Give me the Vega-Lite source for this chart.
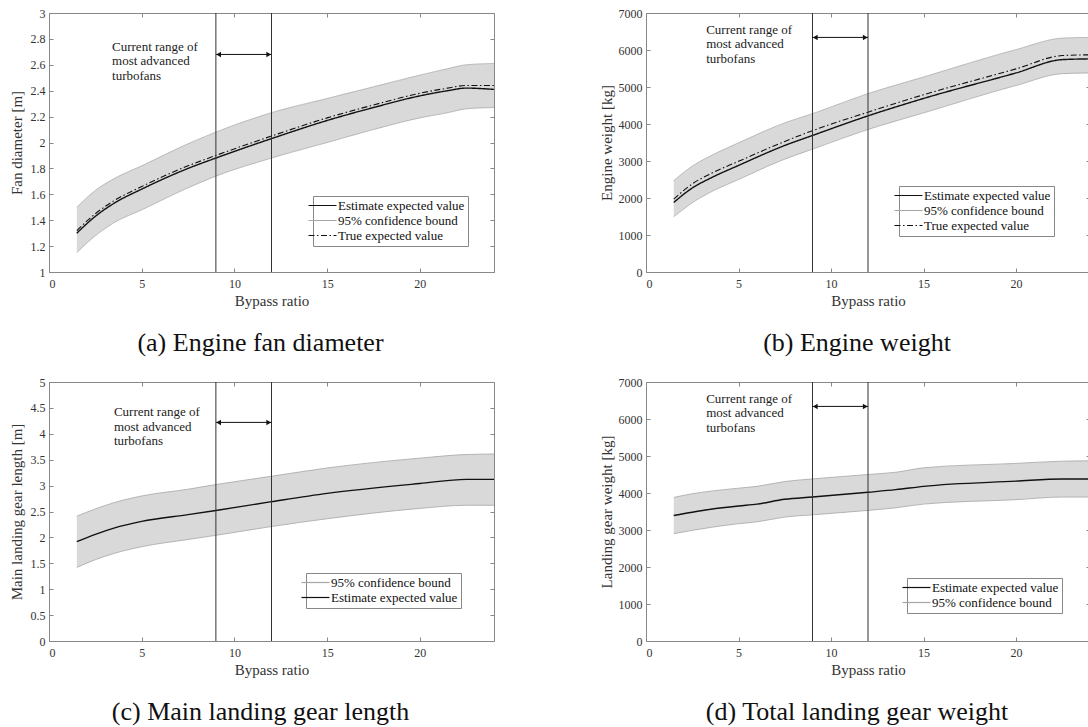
{
  "$schema": "https://vega.github.io/schema/vega-lite/v6.json",
  "background": "white",
  "autosize": {"type": "pad"},
  "padding": {"left": 8, "top": 6, "right": 0, "bottom": 0},
  "datasets": {
    "fan": [
      {"x":1.5,"est":1.30,"lo":1.15,"hi":1.50,"tru":1.32},
      {"x":2.5,"est":1.43,"lo":1.28,"hi":1.63,"tru":1.45},
      {"x":3.5,"est":1.53,"lo":1.38,"hi":1.72,"tru":1.55},
      {"x":5,"est":1.64,"lo":1.48,"hi":1.82,"tru":1.66},
      {"x":7.5,"est":1.80,"lo":1.65,"hi":1.99,"tru":1.82},
      {"x":9,"est":1.88,"lo":1.74,"hi":2.08,"tru":1.9},
      {"x":12,"est":2.03,"lo":1.88,"hi":2.23,"tru":2.05},
      {"x":15,"est":2.17,"lo":2.0,"hi":2.34,"tru":2.19},
      {"x":17.5,"est":2.27,"lo":2.1,"hi":2.43,"tru":2.29},
      {"x":20,"est":2.36,"lo":2.19,"hi":2.52,"tru":2.38},
      {"x":21.5,"est":2.4,"lo":2.23,"hi":2.57,"tru":2.42},
      {"x":22.5,"est":2.42,"lo":2.26,"hi":2.6,"tru":2.44},
      {"x":24,"est":2.41,"lo":2.27,"hi":2.61,"tru":2.44}
    ],
    "weight": [
      {"x":1.5,"est":1880,"lo":1490,"hi":2470,"tru":1970},
      {"x":2.5,"est":2270,"lo":1870,"hi":2860,"tru":2380},
      {"x":3.5,"est":2540,"lo":2160,"hi":3140,"tru":2660},
      {"x":5,"est":2880,"lo":2500,"hi":3490,"tru":2990},
      {"x":7.5,"est":3420,"lo":3050,"hi":4030,"tru":3530},
      {"x":9,"est":3690,"lo":3320,"hi":4280,"tru":3820},
      {"x":12,"est":4220,"lo":3850,"hi":4820,"tru":4320},
      {"x":15,"est":4690,"lo":4300,"hi":5270,"tru":4790},
      {"x":20,"est":5380,"lo":5040,"hi":6010,"tru":5490},
      {"x":22.5,"est":5740,"lo":5360,"hi":6320,"tru":5850},
      {"x":24,"est":5760,"lo":5380,"hi":6340,"tru":5870}
    ],
    "gearlen": [
      {"x":1.5,"est":1.92,"lo":1.42,"hi":2.41},
      {"x":2.5,"est":2.06,"lo":1.57,"hi":2.55},
      {"x":3.5,"est":2.18,"lo":1.69,"hi":2.67},
      {"x":5,"est":2.31,"lo":1.82,"hi":2.80},
      {"x":7.5,"est":2.44,"lo":1.96,"hi":2.93},
      {"x":9,"est":2.52,"lo":2.04,"hi":3.02},
      {"x":12,"est":2.69,"lo":2.21,"hi":3.18},
      {"x":15,"est":2.85,"lo":2.36,"hi":3.34},
      {"x":20,"est":3.04,"lo":2.56,"hi":3.53},
      {"x":22.5,"est":3.12,"lo":2.62,"hi":3.6},
      {"x":24,"est":3.12,"lo":2.62,"hi":3.61}
    ],
    "gearwt": [
      {"x":1.5,"est":3390,"lo":2900,"hi":3880},
      {"x":2.5,"est":3480,"lo":2990,"hi":3980},
      {"x":3.5,"est":3560,"lo":3070,"hi":4050},
      {"x":5,"est":3650,"lo":3170,"hi":4130},
      {"x":6,"est":3700,"lo":3220,"hi":4180},
      {"x":7.5,"est":3830,"lo":3350,"hi":4310},
      {"x":9,"est":3890,"lo":3410,"hi":4380},
      {"x":12,"est":4020,"lo":3530,"hi":4500},
      {"x":13.5,"est":4090,"lo":3600,"hi":4560},
      {"x":15,"est":4180,"lo":3700,"hi":4680},
      {"x":20,"est":4320,"lo":3820,"hi":4800},
      {"x":22.5,"est":4380,"lo":3890,"hi":4860},
      {"x":24,"est":4380,"lo":3890,"hi":4870}
    ],
    "vlines": [{"x":9},{"x":12}],
    "arrowA": [{"x1":9,"x2":12,"y":2.68}],
    "headsA": [{"x":9.15,"y":2.68,"s":"triangle-left"},{"x":11.85,"y":2.68,"s":"triangle-right"}],
    "textA": [{"x":3.4,"y":2.74,"t":"Current range of"},{"x":3.4,"y":2.627,"t":"most advanced"},{"x":3.4,"y":2.515,"t":"turbofans"}],
    "arrowB": [{"x1":9,"x2":12,"y":6340}],
    "headsB": [{"x":9.15,"y":6340,"s":"triangle-left"},{"x":11.85,"y":6340,"s":"triangle-right"}],
    "textB": [{"x":3.25,"y":6550,"t":"Current range of"},{"x":3.25,"y":6160,"t":"most advanced"},{"x":3.25,"y":5770,"t":"turbofans"}],
    "arrowC": [{"x1":9,"x2":12,"y":4.22}],
    "headsC": [{"x":9.15,"y":4.22,"s":"triangle-left"},{"x":11.85,"y":4.22,"s":"triangle-right"}],
    "textC": [{"x":3.5,"y":4.415,"t":"Current range of"},{"x":3.5,"y":4.13,"t":"most advanced"},{"x":3.5,"y":3.855,"t":"turbofans"}]
  },
  "concat": [
    {
      "width": 445, "height": 259,
      "data": {"name": "fan"},
      "title": {"text": "(a) Engine fan diameter"},
      "layer": [
        {"mark": {"type": "area", "color": "#d9d9d9", "interpolate": "monotone"},
         "encoding": {
           "x": {"field": "x", "type": "quantitative", "scale": {"domain": [0, 24]}, "axis": {"title": "Bypass ratio", "values": [0,5,10,15,20], "format": "d"}},
           "y": {"field": "lo", "type": "quantitative", "scale": {"domain": [1, 3]}, "axis": {"title": "Fan diameter [m]", "values": [1,1.2,1.4,1.6,1.8,2,2.2,2.4,2.6,2.8,3], "format": "~g", "titlePadding": 6}},
           "y2": {"field": "hi"}}},
        {"mark": {"type": "line", "strokeWidth": 0.8, "interpolate": "monotone"},
         "encoding": {
           "x": {"field": "x", "type": "quantitative", "axis": {"orient": "top", "labels": false, "title": null, "values": [0,5,10,15,20]}},
           "y": {"field": "lo", "type": "quantitative", "axis": {"orient": "right", "labels": false, "title": null, "values": [1,1.2,1.4,1.6,1.8,2,2.2,2.4,2.6,2.8,3]}},
           "color": {"datum": "95% confidence bound", "type": "nominal", "scale": {"domain": ["Estimate expected value", "95% confidence bound", "True expected value"], "range": ["#111111", "#a6a6a6", "#111111"]}, "legend": {"title": null, "orient": "bottom-right", "offset": 26, "encode": {"symbols": {"update": {"strokeDash": {"signal": "datum.label === 'True expected value' ? [6,2.5,1.5,2.5] : [1,0]"}}}}}},
           "strokeDash": {"datum": "95% confidence bound", "type": "nominal", "scale": {"domain": ["Estimate expected value", "95% confidence bound", "True expected value"], "range": [[1,0],[1,0],[6,2.5,1.5,2.5]]}, "legend": null}}},
        {"mark": {"type": "line", "strokeWidth": 0.8, "interpolate": "monotone"},
         "encoding": {
           "x": {"field": "x", "type": "quantitative", "axis": null},
           "y": {"field": "hi", "type": "quantitative", "axis": null},
           "color": {"datum": "95% confidence bound", "type": "nominal"},
           "strokeDash": {"datum": "95% confidence bound", "type": "nominal"}}},
        {"mark": {"type": "line", "strokeWidth": 1.4, "interpolate": "monotone"},
         "encoding": {
           "x": {"field": "x", "type": "quantitative", "axis": null},
           "y": {"field": "est", "type": "quantitative", "axis": null},
           "color": {"datum": "Estimate expected value", "type": "nominal"},
           "strokeDash": {"datum": "Estimate expected value", "type": "nominal"}}},
        {"mark": {"type": "line", "strokeWidth": 1.1, "interpolate": "monotone"},
         "encoding": {
           "x": {"field": "x", "type": "quantitative", "axis": null},
           "y": {"field": "tru", "type": "quantitative", "axis": null},
           "color": {"datum": "True expected value", "type": "nominal"},
           "strokeDash": {"datum": "True expected value", "type": "nominal"}}},
        {"data": {"name": "vlines"}, "mark": {"type": "rule", "color": "#333333", "strokeWidth": 1},
         "encoding": {"x": {"field": "x", "type": "quantitative", "axis": null}}},
        {"data": {"name": "arrowA"}, "mark": {"type": "rule", "color": "#111111", "strokeWidth": 1},
         "encoding": {"x": {"field": "x1", "type": "quantitative", "axis": null}, "x2": {"field": "x2"}, "y": {"field": "y", "type": "quantitative", "axis": null}}},
        {"data": {"name": "headsA"}, "mark": {"type": "point", "filled": true, "color": "#111111", "size": 30, "opacity": 1},
         "encoding": {"x": {"field": "x", "type": "quantitative", "axis": null}, "y": {"field": "y", "type": "quantitative", "axis": null}, "shape": {"field": "s", "type": "nominal", "scale": null}}},
        {"data": {"name": "textA"}, "mark": {"type": "text", "align": "left", "baseline": "middle", "fontSize": 13, "font": "Liberation Serif", "color": "#222222"},
         "encoding": {"x": {"field": "x", "type": "quantitative", "axis": null}, "y": {"field": "y", "type": "quantitative", "axis": null}, "text": {"field": "t"}}}
      ],
      "resolve": {"axis": {"x": "independent", "y": "independent"}}
    },
    {
      "width": 444, "height": 259,
      "data": {"name": "weight"},
      "title": {"text": "(b) Engine weight"},
      "layer": [
        {"mark": {"type": "area", "color": "#d9d9d9", "interpolate": "monotone"},
         "encoding": {
           "x": {"field": "x", "type": "quantitative", "scale": {"domain": [0, 24]}, "axis": {"title": "Bypass ratio", "values": [0,5,10,15,20], "format": "d"}},
           "y": {"field": "lo", "type": "quantitative", "scale": {"domain": [0, 7000]}, "axis": {"title": "Engine weight [kg]", "values": [0,1000,2000,3000,4000,5000,6000,7000], "format": "d", "titlePadding": 4}},
           "y2": {"field": "hi"}}},
        {"mark": {"type": "line", "strokeWidth": 0.8, "interpolate": "monotone"},
         "encoding": {
           "x": {"field": "x", "type": "quantitative", "axis": {"orient": "top", "labels": false, "title": null, "values": [0,5,10,15,20]}},
           "y": {"field": "lo", "type": "quantitative", "axis": {"orient": "right", "labels": false, "title": null, "values": [0,1000,2000,3000,4000,5000,6000,7000]}},
           "color": {"datum": "95% confidence bound", "type": "nominal", "scale": {"domain": ["Estimate expected value", "95% confidence bound", "True expected value"], "range": ["#111111", "#a6a6a6", "#111111"]}, "legend": {"title": null, "orient": "bottom-right", "offset": 36, "encode": {"symbols": {"update": {"strokeDash": {"signal": "datum.label === 'True expected value' ? [6,2.5,1.5,2.5] : [1,0]"}}}}}},
           "strokeDash": {"datum": "95% confidence bound", "type": "nominal", "scale": {"domain": ["Estimate expected value", "95% confidence bound", "True expected value"], "range": [[1,0],[1,0],[6,2.5,1.5,2.5]]}, "legend": null}}},
        {"mark": {"type": "line", "strokeWidth": 0.8, "interpolate": "monotone"},
         "encoding": {
           "x": {"field": "x", "type": "quantitative", "axis": null},
           "y": {"field": "hi", "type": "quantitative", "axis": null},
           "color": {"datum": "95% confidence bound", "type": "nominal"},
           "strokeDash": {"datum": "95% confidence bound", "type": "nominal"}}},
        {"mark": {"type": "line", "strokeWidth": 1.4, "interpolate": "monotone"},
         "encoding": {
           "x": {"field": "x", "type": "quantitative", "axis": null},
           "y": {"field": "est", "type": "quantitative", "axis": null},
           "color": {"datum": "Estimate expected value", "type": "nominal"},
           "strokeDash": {"datum": "Estimate expected value", "type": "nominal"}}},
        {"mark": {"type": "line", "strokeWidth": 1.1, "interpolate": "monotone"},
         "encoding": {
           "x": {"field": "x", "type": "quantitative", "axis": null},
           "y": {"field": "tru", "type": "quantitative", "axis": null},
           "color": {"datum": "True expected value", "type": "nominal"},
           "strokeDash": {"datum": "True expected value", "type": "nominal"}}},
        {"data": {"name": "vlines"}, "mark": {"type": "rule", "color": "#333333", "strokeWidth": 1},
         "encoding": {"x": {"field": "x", "type": "quantitative", "axis": null}}},
        {"data": {"name": "arrowB"}, "mark": {"type": "rule", "color": "#111111", "strokeWidth": 1},
         "encoding": {"x": {"field": "x1", "type": "quantitative", "axis": null}, "x2": {"field": "x2"}, "y": {"field": "y", "type": "quantitative", "axis": null}}},
        {"data": {"name": "headsB"}, "mark": {"type": "point", "filled": true, "color": "#111111", "size": 30, "opacity": 1},
         "encoding": {"x": {"field": "x", "type": "quantitative", "axis": null}, "y": {"field": "y", "type": "quantitative", "axis": null}, "shape": {"field": "s", "type": "nominal", "scale": null}}},
        {"data": {"name": "textB"}, "mark": {"type": "text", "align": "left", "baseline": "middle", "fontSize": 13, "font": "Liberation Serif", "color": "#222222"},
         "encoding": {"x": {"field": "x", "type": "quantitative", "axis": null}, "y": {"field": "y", "type": "quantitative", "axis": null}, "text": {"field": "t"}}}
      ],
      "resolve": {"axis": {"x": "independent", "y": "independent"}}
    },
    {
      "width": 445, "height": 259,
      "data": {"name": "gearlen"},
      "title": {"text": "(c) Main landing gear length"},
      "layer": [
        {"mark": {"type": "area", "color": "#d9d9d9", "interpolate": "monotone"},
         "encoding": {
           "x": {"field": "x", "type": "quantitative", "scale": {"domain": [0, 24]}, "axis": {"title": "Bypass ratio", "values": [0,5,10,15,20], "format": "d"}},
           "y": {"field": "lo", "type": "quantitative", "scale": {"domain": [0, 5]}, "axis": {"title": "Main landing gear length [m]", "values": [0,0.5,1,1.5,2,2.5,3,3.5,4,4.5,5], "format": "~g", "titlePadding": 6}},
           "y2": {"field": "hi"}}},
        {"mark": {"type": "line", "strokeWidth": 0.8, "interpolate": "monotone"},
         "encoding": {
           "x": {"field": "x", "type": "quantitative", "axis": {"orient": "top", "labels": false, "title": null, "values": [0,5,10,15,20]}},
           "y": {"field": "lo", "type": "quantitative", "axis": {"orient": "right", "labels": false, "title": null, "values": [0,0.5,1,1.5,2,2.5,3,3.5,4,4.5,5]}},
           "color": {"datum": "95% confidence bound", "type": "nominal", "scale": {"domain": ["95% confidence bound", "Estimate expected value"], "range": ["#a6a6a6", "#111111"]}, "legend": {"title": null, "orient": "bottom-right", "offset": 33}}}},
        {"mark": {"type": "line", "strokeWidth": 0.8, "interpolate": "monotone"},
         "encoding": {
           "x": {"field": "x", "type": "quantitative", "axis": null},
           "y": {"field": "hi", "type": "quantitative", "axis": null},
           "color": {"datum": "95% confidence bound", "type": "nominal"}}},
        {"mark": {"type": "line", "strokeWidth": 1.4, "interpolate": "monotone"},
         "encoding": {
           "x": {"field": "x", "type": "quantitative", "axis": null},
           "y": {"field": "est", "type": "quantitative", "axis": null},
           "color": {"datum": "Estimate expected value", "type": "nominal"}}},
        {"data": {"name": "vlines"}, "mark": {"type": "rule", "color": "#333333", "strokeWidth": 1},
         "encoding": {"x": {"field": "x", "type": "quantitative", "axis": null}}},
        {"data": {"name": "arrowC"}, "mark": {"type": "rule", "color": "#111111", "strokeWidth": 1},
         "encoding": {"x": {"field": "x1", "type": "quantitative", "axis": null}, "x2": {"field": "x2"}, "y": {"field": "y", "type": "quantitative", "axis": null}}},
        {"data": {"name": "headsC"}, "mark": {"type": "point", "filled": true, "color": "#111111", "size": 30, "opacity": 1},
         "encoding": {"x": {"field": "x", "type": "quantitative", "axis": null}, "y": {"field": "y", "type": "quantitative", "axis": null}, "shape": {"field": "s", "type": "nominal", "scale": null}}},
        {"data": {"name": "textC"}, "mark": {"type": "text", "align": "left", "baseline": "middle", "fontSize": 13, "font": "Liberation Serif", "color": "#222222"},
         "encoding": {"x": {"field": "x", "type": "quantitative", "axis": null}, "y": {"field": "y", "type": "quantitative", "axis": null}, "text": {"field": "t"}}}
      ],
      "resolve": {"axis": {"x": "independent", "y": "independent"}}
    },
    {
      "width": 444, "height": 259,
      "data": {"name": "gearwt"},
      "title": {"text": "(d) Total landing gear weight"},
      "layer": [
        {"mark": {"type": "area", "color": "#d9d9d9", "interpolate": "monotone"},
         "encoding": {
           "x": {"field": "x", "type": "quantitative", "scale": {"domain": [0, 24]}, "axis": {"title": "Bypass ratio", "values": [0,5,10,15,20], "format": "d"}},
           "y": {"field": "lo", "type": "quantitative", "scale": {"domain": [0, 7000]}, "axis": {"title": "Landing gear weight [kg]", "values": [0,1000,2000,3000,4000,5000,6000,7000], "format": "d", "titlePadding": 4}},
           "y2": {"field": "hi"}}},
        {"mark": {"type": "line", "strokeWidth": 0.8, "interpolate": "monotone"},
         "encoding": {
           "x": {"field": "x", "type": "quantitative", "axis": {"orient": "top", "labels": false, "title": null, "values": [0,5,10,15,20]}},
           "y": {"field": "lo", "type": "quantitative", "axis": {"orient": "right", "labels": false, "title": null, "values": [0,1000,2000,3000,4000,5000,6000,7000]}},
           "color": {"datum": "95% confidence bound", "type": "nominal", "scale": {"domain": ["Estimate expected value", "95% confidence bound"], "range": ["#111111", "#a6a6a6"]}, "legend": {"title": null, "orient": "bottom-right", "offset": 28}}}},
        {"mark": {"type": "line", "strokeWidth": 0.8, "interpolate": "monotone"},
         "encoding": {
           "x": {"field": "x", "type": "quantitative", "axis": null},
           "y": {"field": "hi", "type": "quantitative", "axis": null},
           "color": {"datum": "95% confidence bound", "type": "nominal"}}},
        {"mark": {"type": "line", "strokeWidth": 1.4, "interpolate": "monotone"},
         "encoding": {
           "x": {"field": "x", "type": "quantitative", "axis": null},
           "y": {"field": "est", "type": "quantitative", "axis": null},
           "color": {"datum": "Estimate expected value", "type": "nominal"}}},
        {"data": {"name": "vlines"}, "mark": {"type": "rule", "color": "#333333", "strokeWidth": 1},
         "encoding": {"x": {"field": "x", "type": "quantitative", "axis": null}}},
        {"data": {"name": "arrowB"}, "mark": {"type": "rule", "color": "#111111", "strokeWidth": 1},
         "encoding": {"x": {"field": "x1", "type": "quantitative", "axis": null}, "x2": {"field": "x2"}, "y": {"field": "y", "type": "quantitative", "axis": null}}},
        {"data": {"name": "headsB"}, "mark": {"type": "point", "filled": true, "color": "#111111", "size": 30, "opacity": 1},
         "encoding": {"x": {"field": "x", "type": "quantitative", "axis": null}, "y": {"field": "y", "type": "quantitative", "axis": null}, "shape": {"field": "s", "type": "nominal", "scale": null}}},
        {"data": {"name": "textB"}, "mark": {"type": "text", "align": "left", "baseline": "middle", "fontSize": 13, "font": "Liberation Serif", "color": "#222222"},
         "encoding": {"x": {"field": "x", "type": "quantitative", "axis": null}, "y": {"field": "y", "type": "quantitative", "axis": null}, "text": {"field": "t"}}}
      ],
      "resolve": {"axis": {"x": "independent", "y": "independent"}}
    }
  ],
  "columns": 2,
  "spacing": {"row": 110, "column": 152},
  "bounds": "flush",
  "align": "all",
  "resolve": {"scale": {"color": "independent", "strokeDash": "independent"}, "legend": {"color": "independent", "strokeDash": "independent"}},
  "config": {
    "font": "Liberation Serif",
    "view": {"stroke": "#888888", "strokeWidth": 1},
    "axis": {"domain": false, "grid": false, "tickColor": "#888888", "tickSize": -4, "tickWidth": 1, "labelFont": "Liberation Serif", "labelFontSize": 12, "labelColor": "#333333", "titleFont": "Liberation Serif", "titleFontSize": 15, "titleFontWeight": "normal", "titleColor": "#333333"},
    "axisX": {"labelPadding": 10, "titlePadding": 4},
    "axisY": {"labelPadding": 8},
    "legend": {"symbolType": "M-2.8,0H2.8", "symbolSize": 100, "symbolStrokeWidth": 1.2, "labelOffset": 9, "rowPadding": 1, "padding": 3, "strokeColor": "#888888", "fillColor": "white", "labelFontSize": 13, "labelFont": "Liberation Serif", "labelColor": "#111111", "cornerRadius": 0},
    "title": {"orient": "bottom", "fontSize": 26, "font": "Liberation Serif", "fontWeight": "normal", "color": "#111111", "offset": 22, "anchor": "middle", "dx": -11}
  }
}
